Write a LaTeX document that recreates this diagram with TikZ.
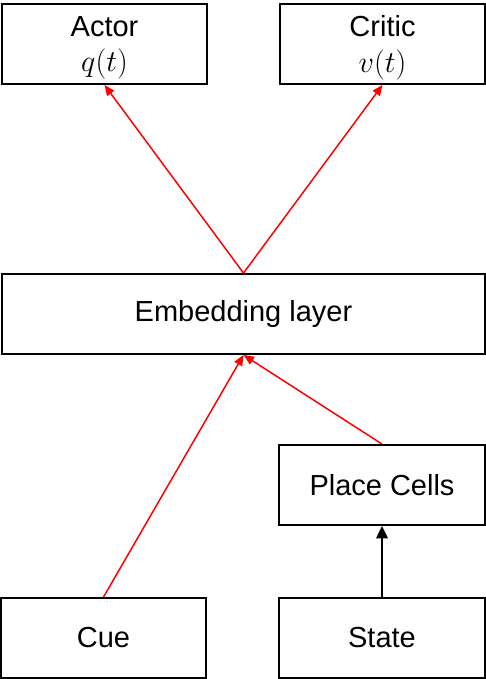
\documentclass[tikz,border=0pt]{standalone}
\usepackage{fontspec}
\setmainfont{Liberation Sans}
\usepackage{amsmath}
\usetikzlibrary{arrows.meta,positioning}

\tikzset{
    box/.style={rectangle, draw, line width=1.1pt, minimum width=4.1cm, minimum height=1.6cm, align=center, font=\fontsize{16.5}{20}\selectfont, inner sep=0pt},
    redarrow/.style={-{Triangle[length=6pt,width=5pt]}, draw=red, line width=0.85pt},
    blackarrow/.style={-{Triangle[length=7pt,width=6.5pt]}, line width=1.1pt}
}

\begin{document}
\begin{tikzpicture}[x=0.02cm, y=-0.02cm]
    \useasboundingbox (0,0) rectangle (486,679);
    \node (actor) [box] at (104.5,44) {Actor\\[0pt]$\smash{q(t)}$};
    \node (critic) [box] at (382.5,44) {Critic\\[0pt]$\smash{v(t)}$};
    \node (embed) [box, minimum width=9.66cm] at (243.5,314) {Embedding layer};
    \node (place) [box, minimum width=4.12cm] at (382,485) {Place Cells};
    \node (cue) [box] at (103.5,638) {Cue};
    \node (state) [box, minimum width=4.12cm] at (382,638) {State};

    \draw [redarrow] (embed.north) -- (actor.south);
    \draw [redarrow] (embed.north) -- (critic.south);
    \draw [redarrow] (cue.north) -- (embed.south);
    \draw [redarrow] (place.north) -- (embed.south);
    \draw [blackarrow] (state) -- (place);
\end{tikzpicture}
\end{document}
